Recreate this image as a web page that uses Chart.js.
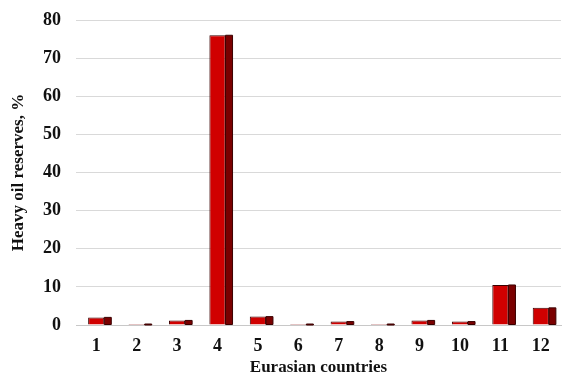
<!DOCTYPE html>
<html>
<head>
<meta charset="utf-8">
<script src="https://cdn.jsdelivr.net/npm/chart.js@4"></script>
<style>
  html, body { margin: 0; padding: 0; background: #fff; }
  #chart { display: block; }
</style>
</head>
<body>
<canvas id="chart" width="571" height="374"></canvas>
<script>
'use strict';

// Eurasian countries (numbered as in the source figure)
const countries = ['1', '2', '3', '4', '5', '6', '7', '8', '9', '10', '11', '12'];
// share of heavy oil reserves, %
const reserves = [2.0, 0.2, 1.2, 76, 2.2, 0.2, 0.9, 0.2, 1.2, 0.9, 10.5, 4.5];
const yTicks = [0, 10, 20, 30, 40, 50, 60, 70, 80];

const serif = '"Liberation Serif", "Times New Roman", serif';

// side face for the pseudo-3D bars
const sideFace = {
    id: 'sideFace',
    afterDatasetsDraw(chart) {
        const ctx = chart.ctx;
        const meta = chart.getDatasetMeta(0);
        ctx.save();
        meta.data.forEach(bar => {
            const p = bar.getProps(['x', 'y', 'base', 'width'], true);
            const right = p.x + p.width / 2;
            const depth = 7;
            ctx.fillStyle = '#7a0000';
            ctx.strokeStyle = '#3a0000';
            ctx.lineWidth = 1;
            ctx.beginPath();
            ctx.rect(right, p.y, depth, Math.max(p.base - p.y, 1));
            ctx.fill();
            ctx.stroke();
        });
        ctx.restore();
    }
};

const ctx = document.getElementById('chart').getContext('2d');
new Chart(ctx, {
    type: 'bar',
    data: {
        labels: countries,
        datasets: [{
            data: reserves,
            backgroundColor: '#d00000',
            borderColor: '#3a0000',
            borderWidth: 1,
            minBarLength: 1,
            barPercentage: 0.8,
            categoryPercentage: 0.5
        }]
    },
    options: {
        responsive: false,
        animation: false,
        layout: { padding: { left: 8, right: 10, top: 20, bottom: 0 } },
        plugins: {
            legend: { display: false },
            tooltip: { enabled: false }
        },
        scales: {
            x: {
                grid: { display: false },
                border: { display: true, color: '#c8c8c8' },
                ticks: {
                    color: '#111',
                    padding: 3,
                    font: { family: serif, size: 18, weight: 'bold' }
                },
                title: {
                    display: true,
                    text: 'Eurasian countries',
                    color: '#111',
                    padding: { top: 0, bottom: -4 },
                    font: { family: serif, size: 17, weight: 'bold' }
                },
                afterFit(scale) { scale.height = 49; }
            },
            y: {
                min: 0,
                max: 80,
                afterBuildTicks(scale) {
                    scale.ticks = yTicks.map(v => ({ value: v }));
                },
                grid: { color: '#d9d9d9', drawTicks: false },
                border: { display: false },
                ticks: {
                    color: '#111',
                    padding: 15,
                    font: { family: serif, size: 18, weight: 'bold' }
                },
                title: {
                    display: true,
                    text: 'Heavy oil reserves, %',
                    color: '#111',
                    padding: { top: 0, bottom: 0 },
                    font: { family: serif, size: 17, weight: 'bold' }
                },
                afterFit(scale) {
                    scale.width = 68;
                    scale.paddingTop = 0;
                    scale.paddingBottom = 0;
                }
            }
        }
    },
    plugins: [sideFace]
});
</script>
</body>
</html>
